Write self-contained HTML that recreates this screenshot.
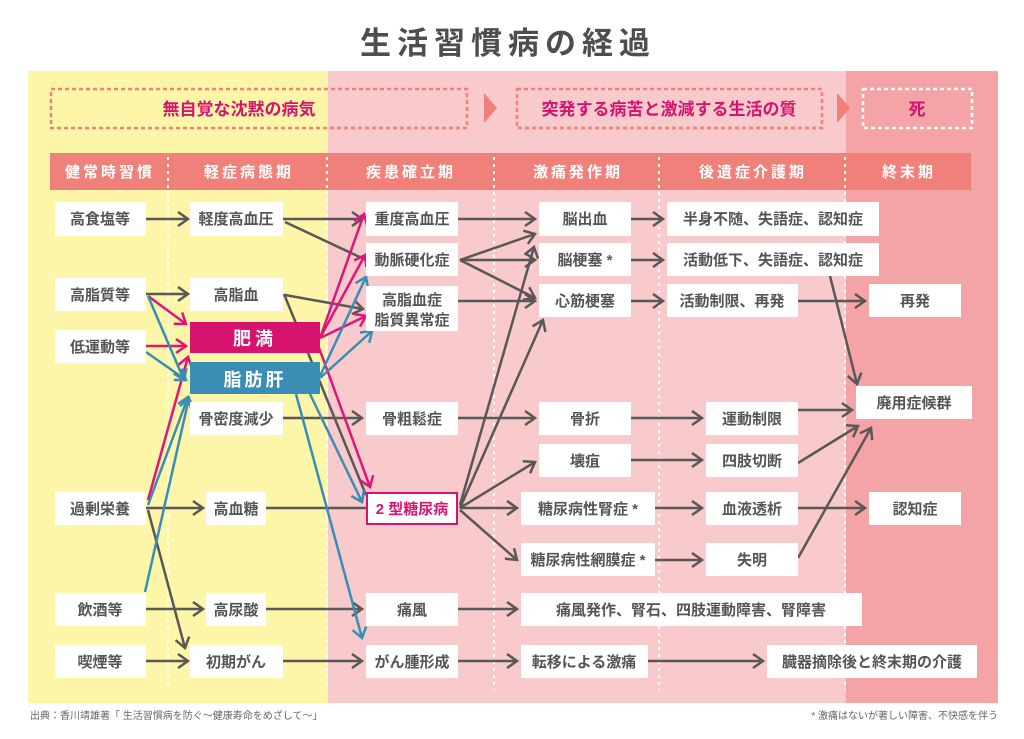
<!DOCTYPE html>
<html><head><meta charset="utf-8"><style>
html,body{margin:0;padding:0;background:#fff}
svg text{font-family:"Liberation Sans","Noto Sans CJK JP",sans-serif}
</style></head><body>
<svg width="1024" height="734" viewBox="0 0 1024 734" xmlns="http://www.w3.org/2000/svg">
<defs>
<marker id="g" markerUnits="userSpaceOnUse" markerWidth="16" markerHeight="18" refX="12" refY="8" orient="auto"><path d="M2,1 L12,8 L2,15" fill="none" stroke="#595757" stroke-width="2.5"/></marker>
<marker id="m" markerUnits="userSpaceOnUse" markerWidth="16" markerHeight="18" refX="12" refY="8" orient="auto"><path d="M2,1 L12,8 L2,15" fill="none" stroke="#e0157a" stroke-width="2.5"/></marker>
<marker id="b" markerUnits="userSpaceOnUse" markerWidth="16" markerHeight="18" refX="12" refY="8" orient="auto"><path d="M2,1 L12,8 L2,15" fill="none" stroke="#3a8db5" stroke-width="2.5"/></marker>
</defs>
<rect x="0" y="0" width="1024" height="734" fill="#fff"/>
<text x="508" y="54" text-anchor="middle" font-size="31" font-weight="bold" fill="#4e4e4e" letter-spacing="6">生活習慣病の経過</text>
<rect x="28" y="71" width="300" height="632" fill="#fdf5a8"/>
<rect x="328" y="71" width="518" height="632" fill="#f9cacb"/>
<rect x="846" y="71" width="152" height="632" fill="#f4a3a6"/>
<rect x="51" y="89" width="416" height="39" fill="none" stroke="#f08078" stroke-width="2.5" stroke-dasharray="4 3"/>
<text x="239" y="115" text-anchor="middle" font-size="17" font-weight="bold" fill="#d6136f">無自覚な沈黙の病気</text>
<path d="M484,93 L497,108 L484,123Z" fill="#f08078"/>
<rect x="517" y="89" width="305" height="39" fill="none" stroke="#f08078" stroke-width="2.5" stroke-dasharray="4 3"/>
<text x="669" y="115" text-anchor="middle" font-size="17" font-weight="bold" fill="#d6136f">突発する病苦と激減する生活の質</text>
<path d="M837,93 L850,108 L837,123Z" fill="#f08078"/>
<rect x="863" y="89" width="109" height="39" fill="none" stroke="#fff" stroke-width="2.5" stroke-dasharray="4 3"/>
<text x="917" y="115" text-anchor="middle" font-size="17" font-weight="bold" fill="#d6136f">死</text>
<rect x="50" y="153" width="921" height="37" fill="#ef817a"/>
<g font-size="15" font-weight="bold" fill="#fff" text-anchor="middle" letter-spacing="3">
<text x="110" y="177">健常時習慣</text><text x="249" y="177">軽症病態期</text><text x="411" y="177">疾患確立期</text>
<text x="578" y="177">激痛発作期</text><text x="753" y="177">後遺症介護期</text><text x="909" y="177">終末期</text>
</g>
<g stroke="#fff" stroke-width="2" stroke-dasharray="3 4">
<line x1="168" y1="157" x2="168" y2="690"/><line x1="327" y1="157" x2="327" y2="690"/>
<line x1="494" y1="157" x2="494" y2="690"/><line x1="659" y1="157" x2="659" y2="690"/>
<line x1="845" y1="157" x2="845" y2="690"/>
</g>
<g stroke="#595757" stroke-width="2.5" fill="none">
<line x1="146" y1="219" x2="188" y2="219" marker-end="url(#g)"/>
<line x1="283" y1="219" x2="362" y2="219" marker-end="url(#g)"/>
<line x1="285" y1="222" x2="366" y2="260"/>
<line x1="146" y1="294" x2="188" y2="294" marker-end="url(#g)"/>
<line x1="285" y1="295" x2="363" y2="309" marker-end="url(#g)"/>
<line x1="284" y1="294" x2="366" y2="495"/>
<line x1="283" y1="418" x2="362" y2="418" marker-end="url(#g)"/>
<line x1="146" y1="508" x2="203" y2="508" marker-end="url(#g)"/>
<line x1="266" y1="508" x2="366" y2="508"/>
<line x1="148" y1="510" x2="185" y2="648" marker-end="url(#g)"/>
<line x1="146" y1="609" x2="203" y2="609" marker-end="url(#g)"/>
<line x1="266" y1="609" x2="362" y2="609" marker-end="url(#g)"/>
<line x1="146" y1="661" x2="188" y2="661" marker-end="url(#g)"/>
<line x1="283" y1="661" x2="362" y2="661" marker-end="url(#g)"/>
<line x1="458" y1="219" x2="535" y2="219" marker-end="url(#g)"/>
<line x1="460" y1="260" x2="535" y2="234" marker-end="url(#g)"/>
<line x1="460" y1="260" x2="535" y2="260" marker-end="url(#g)"/>
<line x1="460" y1="260" x2="535" y2="298" marker-end="url(#g)"/>
<line x1="458" y1="301" x2="535" y2="301" marker-end="url(#g)"/>
<line x1="460" y1="505" x2="534" y2="247" marker-end="url(#g)"/>
<line x1="460" y1="508" x2="543" y2="320" marker-end="url(#g)"/>
<line x1="460" y1="508" x2="535" y2="462" marker-end="url(#g)"/>
<line x1="460" y1="508" x2="517" y2="508" marker-end="url(#g)"/>
<line x1="460" y1="510" x2="517" y2="560" marker-end="url(#g)"/>
<line x1="458" y1="418" x2="535" y2="418" marker-end="url(#g)"/>
<line x1="458" y1="609" x2="517" y2="609" marker-end="url(#g)"/>
<line x1="458" y1="661" x2="517" y2="661" marker-end="url(#g)"/>
<line x1="648" y1="661" x2="763" y2="661" marker-end="url(#g)"/>
<line x1="631" y1="219" x2="663" y2="219" marker-end="url(#g)"/>
<line x1="631" y1="260" x2="663" y2="260" marker-end="url(#g)"/>
<line x1="631" y1="301" x2="663" y2="301" marker-end="url(#g)"/>
<line x1="631" y1="418" x2="702" y2="418" marker-end="url(#g)"/>
<line x1="631" y1="460" x2="702" y2="460" marker-end="url(#g)"/>
<line x1="655" y1="508" x2="702" y2="508" marker-end="url(#g)"/>
<line x1="655" y1="560" x2="702" y2="560" marker-end="url(#g)"/>
<line x1="798" y1="301" x2="865" y2="301" marker-end="url(#g)"/>
<line x1="830" y1="276" x2="857" y2="384" marker-end="url(#g)"/>
<line x1="798" y1="410" x2="852" y2="410" marker-end="url(#g)"/>
<line x1="798" y1="463" x2="858" y2="426" marker-end="url(#g)"/>
<line x1="798" y1="508" x2="865" y2="508" marker-end="url(#g)"/>
<line x1="798" y1="558" x2="871" y2="428" marker-end="url(#g)"/>
</g>
<g stroke="#e0157a" stroke-width="2.5" fill="none">
<line x1="148" y1="296" x2="186" y2="324" marker-end="url(#m)"/>
<line x1="146" y1="346" x2="186" y2="346" marker-end="url(#m)"/>
<line x1="148" y1="500" x2="188" y2="357" marker-end="url(#m)"/>
<line x1="320" y1="338" x2="364" y2="214" marker-end="url(#m)"/>
<line x1="320" y1="338" x2="365" y2="255" marker-end="url(#m)"/>
<line x1="320" y1="338" x2="366" y2="316" marker-end="url(#m)"/>
<line x1="318" y1="345" x2="370" y2="487" marker-end="url(#m)"/>
</g>
<g stroke="#3a8db5" stroke-width="2.5" fill="none">
<line x1="148" y1="296" x2="184" y2="380" marker-end="url(#b)"/>
<line x1="146" y1="352" x2="186" y2="380" marker-end="url(#b)"/>
<line x1="148" y1="505" x2="188" y2="397" marker-end="url(#b)"/>
<line x1="145" y1="592" x2="189" y2="398" marker-end="url(#b)"/>
<line x1="320" y1="376" x2="366" y2="277" marker-end="url(#b)"/>
<line x1="320" y1="378" x2="372" y2="331" marker-end="url(#b)"/>
<line x1="310" y1="394" x2="362" y2="502" marker-end="url(#b)"/>
<line x1="296" y1="394" x2="362" y2="638" marker-end="url(#b)"/>
</g>
<g fill="#fff">
<rect x="55" y="202" width="91" height="34"/><rect x="55" y="278" width="91" height="33"/><rect x="55" y="330" width="91" height="33"/>
<rect x="55" y="492" width="91" height="33"/><rect x="55" y="593" width="91" height="33"/><rect x="55" y="645" width="91" height="33"/>
<rect x="190" y="202" width="93" height="34"/><rect x="190" y="278" width="93" height="33"/><rect x="190" y="402" width="93" height="33"/>
<rect x="206" y="492" width="60" height="33"/><rect x="206" y="593" width="60" height="33"/><rect x="190" y="645" width="93" height="33"/>
<rect x="366" y="202" width="92" height="34"/><rect x="366" y="243" width="92" height="33"/><rect x="366" y="286" width="92" height="45"/>
<rect x="366" y="402" width="92" height="33"/><rect x="366" y="593" width="92" height="33"/><rect x="366" y="645" width="92" height="33"/>
<rect x="539" y="202" width="92" height="34"/><rect x="539" y="243" width="92" height="33"/><rect x="539" y="284" width="92" height="33"/>
<rect x="539" y="402" width="92" height="33"/><rect x="539" y="444" width="92" height="33"/><rect x="521" y="492" width="134" height="33"/>
<rect x="521" y="543" width="134" height="33"/><rect x="521" y="593" width="341" height="33"/><rect x="521" y="645" width="127" height="33"/>
<rect x="667" y="202" width="212" height="34"/><rect x="667" y="243" width="212" height="33"/><rect x="667" y="284" width="131" height="33"/>
<rect x="706" y="402" width="92" height="33"/><rect x="706" y="444" width="92" height="33"/><rect x="706" y="492" width="92" height="33"/>
<rect x="706" y="543" width="92" height="33"/><rect x="767" y="645" width="210" height="33"/>
<rect x="869" y="284" width="92" height="33"/><rect x="856" y="386" width="116" height="33"/><rect x="869" y="492" width="92" height="33"/>
</g>
<rect x="190" y="322" width="130" height="31" fill="#d6136f"/>
<rect x="190" y="362" width="130" height="32" fill="#3a8db5"/>
<rect x="367" y="493" width="90" height="31" fill="#fff" stroke="#d6136f" stroke-width="2"/>
<g font-size="15" font-weight="bold" fill="#555" text-anchor="middle">
<text x="100" y="224">高食塩等</text><text x="100" y="300">高脂質等</text><text x="100" y="352">低運動等</text>
<text x="100" y="514">過剰栄養</text><text x="100" y="615">飲酒等</text><text x="100" y="667">喫煙等</text>
<text x="236" y="224">軽度高血圧</text><text x="236" y="300">高脂血</text><text x="236" y="424">骨密度減少</text>
<text x="236" y="514">高血糖</text><text x="236" y="615">高尿酸</text><text x="236" y="667">初期がん</text>
<text x="412" y="224">重度高血圧</text><text x="412" y="265">動脈硬化症</text><text x="412" y="305">高脂血症</text><text x="412" y="325">脂質異常症</text>
<text x="412" y="424">骨粗鬆症</text><text x="412" y="615">痛風</text><text x="412" y="667">がん腫形成</text>
<text x="585" y="224">脳出血</text><text x="585" y="265">脳梗塞 *</text><text x="585" y="306">心筋梗塞</text>
<text x="585" y="424">骨折</text><text x="585" y="466">壊疽</text><text x="588" y="514">糖尿病性腎症 *</text>
<text x="588" y="565">糖尿病性網膜症 *</text><text x="691" y="615">痛風発作、腎石、四肢運動障害、腎障害</text><text x="584" y="667">転移による激痛</text>
<text x="773" y="224">半身不随、失語症、認知症</text><text x="773" y="265">活動低下、失語症、認知症</text><text x="732" y="306">活動制限、再発</text>
<text x="752" y="424">運動制限</text><text x="752" y="466">四肢切断</text><text x="752" y="514">血液透析</text><text x="752" y="565">失明</text>
<text x="872" y="667">臓器摘除後と終末期の介護</text>
<text x="915" y="306">再発</text><text x="914" y="408">廃用症候群</text><text x="915" y="514">認知症</text>
</g>
<text x="412" y="514" font-size="15" font-weight="bold" fill="#d6136f" text-anchor="middle">2 型糖尿病</text>
<text x="255" y="345" font-size="18" font-weight="bold" fill="#fff" text-anchor="middle" letter-spacing="4">肥満</text>
<text x="255" y="386" font-size="18" font-weight="bold" fill="#fff" text-anchor="middle" letter-spacing="3">脂肪肝</text>
<text x="30" y="719" font-size="10" fill="#666">出典：香川靖雄著「 生活習慣病を防ぐ〜健康寿命をめざして〜」</text>
<text x="998" y="719" font-size="10" fill="#666" text-anchor="end">* 激痛はないが著しい障害、不快感を伴う</text>
</svg>
</body></html>
